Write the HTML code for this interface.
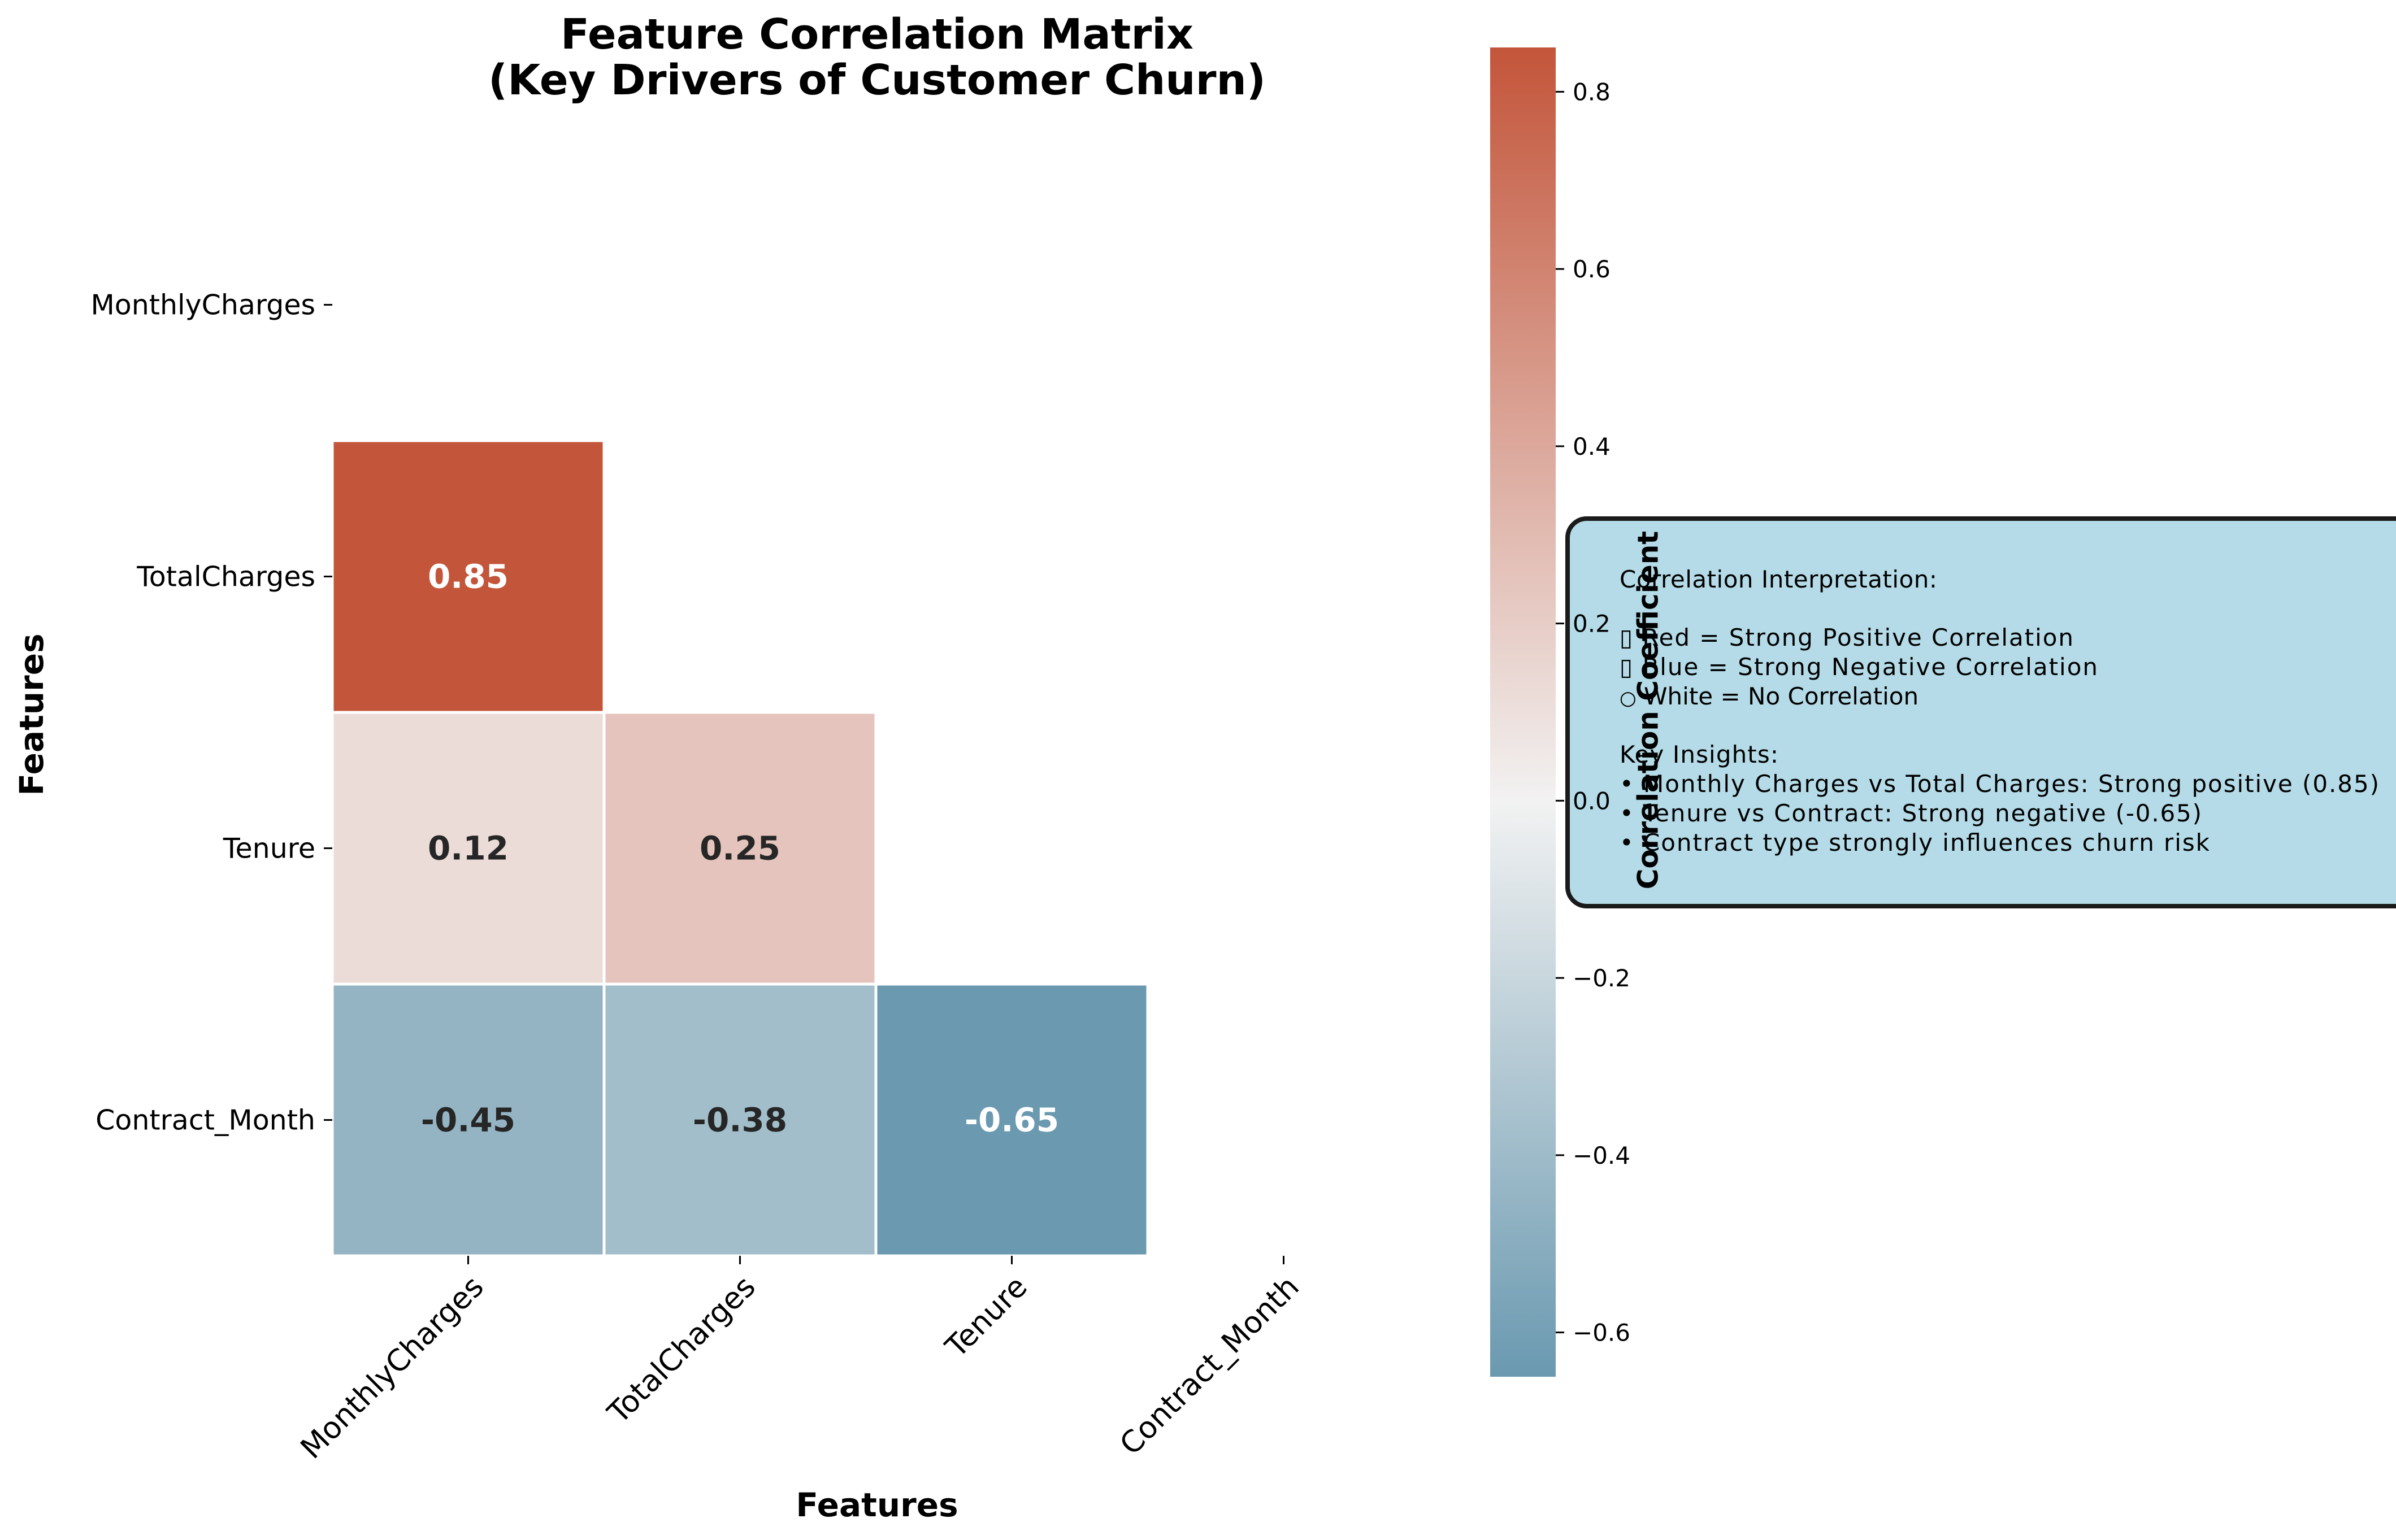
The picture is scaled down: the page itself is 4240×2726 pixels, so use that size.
<!DOCTYPE html>
<html><head><meta charset="utf-8"><style>
html,body{margin:0;padding:0;background:#fff}
svg{display:block;font-family:"DejaVu Sans","Liberation Sans",sans-serif}
</style></head><body>
<svg id="chart" width="4240" height="2726" viewBox="0 0 4240 2726" xmlns="http://www.w3.org/2000/svg">
<defs>
<linearGradient id="cbgrad" x1="0" y1="1" x2="0" y2="0">
<stop offset="0" stop-color="#6a99b0"/>
<stop offset="0.4333" stop-color="#f2f2f2"/>
<stop offset="1" stop-color="#c3553a"/>
</linearGradient>
</defs>
<rect width="4240" height="2726" fill="#fff"/>
<text x="1552" y="86" text-anchor="middle" font-size="74" font-weight="bold" textLength="1120" lengthAdjust="spacingAndGlyphs">Feature Correlation Matrix</text>
<text x="1552" y="167" text-anchor="middle" font-size="74" font-weight="bold" textLength="1376" lengthAdjust="spacingAndGlyphs">(Key Drivers of Customer Churn)</text>
<g id="heat"></g>
<text x="60" y="1265" text-anchor="middle" font-size="58" font-weight="bold" transform="rotate(-90 60 1265)" dominant-baseline="middle">Features</text>
<text x="1552" y="2684" text-anchor="middle" font-size="58" font-weight="bold">Features</text>
<rect x="2774" y="918" width="1520" height="686" rx="34" ry="34" fill="#b4dbe7" stroke="#1a1a1a" stroke-width="8"/>
<g font-size="42" fill="#000">
<text x="2866" y="1040" textLength="562" lengthAdjust="spacing">Correlation Interpretation:</text>
<text x="2866" y="1143" textLength="803" lengthAdjust="spacing">▯ Red = Strong Positive Correlation</text>
<text x="2866" y="1195" textLength="846" lengthAdjust="spacing">▯ Blue = Strong Negative Correlation</text>
<text x="2866" y="1247"><tspan font-size="34">○</tspan> White = No Correlation</text>
<text x="2866" y="1350" textLength="281" lengthAdjust="spacing">Key Insights:</text>
<text x="2866" y="1402" textLength="1344" lengthAdjust="spacing">• Monthly Charges vs Total Charges: Strong positive (0.85)</text>
<text x="2866" y="1454" textLength="1030" lengthAdjust="spacing">• Tenure vs Contract: Strong negative (-0.65)</text>
<text x="2866" y="1506" textLength="1044" lengthAdjust="spacing">• Contract type strongly influences churn risk</text>
</g>
<g id="cbar"></g>
<text x="2920" y="1257" text-anchor="middle" font-size="50" font-weight="bold" transform="rotate(-90 2920 1257)" dominant-baseline="middle">Correlation Coefficient</text>
</svg>
<script>
const features = ["MonthlyCharges","TotalCharges","Tenure","Contract_Month"];
const rowIdx = [1,2,2,3,3,3];
const colIdx = [0,0,1,0,1,2];
const corrValues = [0.85,0.12,0.25,-0.45,-0.38,-0.65];
const cbTicks = [0.8,0.6,0.4,0.2,0.0,-0.2,-0.4,-0.6];
const vmin = -0.65, vmax = 0.85;

const NS = "http://www.w3.org/2000/svg";
const X0 = 588, Y0 = 299, CW = 481, CH = 481;
const xPos = i => X0 + i*CW;
const yPos = i => Y0 + i*CH;
const CB = {x:2637, w:116, top:84, bot:2437};
const cbY = v => CB.bot - (v - vmin)/(vmax - vmin)*(CB.bot - CB.top);

function mix(a,b,t){return a.map((c,i)=>Math.round(c+(b[i]-c)*t));}
function colorFor(v){
  const mid=[242,242,242], neg=[106,153,176], pos=[195,85,58];
  const c = v>=0 ? mix(mid,pos,v/vmax) : mix(mid,neg,v/vmin);
  return "rgb("+c.join(",")+")";
}
function mk(tag, attrs, parent, text){
  const e=document.createElementNS(NS,tag);
  for(const k in attrs) e.setAttribute(k,attrs[k]);
  if(text!==undefined) e.textContent=text;
  parent.appendChild(e); return e;
}
const heat=document.getElementById("heat");
corrValues.forEach((v,k)=>{
  const r=rowIdx[k], c=colIdx[k];
  const rect=mk("rect",{x:xPos(c),y:yPos(r),width:CW,height:CH,fill:colorFor(v),stroke:"#fff","stroke-width":5},heat);
  
  
  const t=mk("text",{x:xPos(c)+CW/2,y:yPos(r)+CH/2+20,"text-anchor":"middle","font-size":58,"font-weight":"bold",fill:Math.abs(v)>0.55?"#fff":"#262626"},heat,v.toFixed(2));
  
  
});
features.forEach((f,i)=>{
  const cy=yPos(i)+CH/2;
  const tk=mk("line",{x1:X0-15,x2:X0,y1:cy,y2:cy,stroke:"#000","stroke-width":3},heat);
  
  
  const yl=mk("text",{x:X0-30,y:cy+17,"text-anchor":"end","font-size":49},heat,f);
  
  
  const cx=xPos(i)+CW/2, by=Y0+4*CH;
  const xt=mk("line",{x1:cx,x2:cx,y1:by,y2:by+15,stroke:"#000","stroke-width":3},heat);
  
  
  const ax=cx+2, ay=by+30;
  const xl=mk("text",{x:ax,y:ay,dy:"0.75em","text-anchor":"end","font-size":53,transform:`rotate(-45 ${ax} ${ay})`},heat,f);
  
  
});
const cbar=document.getElementById("cbar");
const cbr=mk("rect",{x:CB.x,y:CB.top,width:CB.w,height:CB.bot-CB.top,fill:"url(#cbgrad)"},cbar);


cbTicks.forEach(v=>{
  const y=cbY(v);
  const l=mk("line",{x1:CB.x+CB.w,x2:CB.x+CB.w+15,y1:y,y2:y,stroke:"#000","stroke-width":3},cbar);
  
  
  const s=(v<0?"\u2212":"")+Math.abs(v).toFixed(1);
  const t=mk("text",{x:CB.x+CB.w+30,y:y+15,"font-size":42},cbar,s);
  
  
});
</script>
</body></html>
